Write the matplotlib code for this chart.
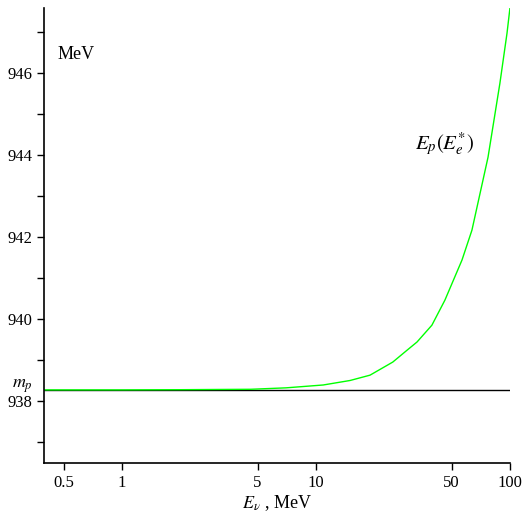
import matplotlib
matplotlib.use("Agg")
import matplotlib.pyplot as plt
import matplotlib.ticker as mtick
import numpy as np

plt.rcParams['font.family'] = ['Liberation Serif', 'DejaVu Serif']
plt.rcParams['mathtext.fontset'] = 'stix'

# proton mass line
m_p = 938.27

# E_p(E_e^*) curve
e_nu = [0.4, 1.0, 2.0, 3.0, 4.6, 7.0, 10.9, 15.0, 19.0, 24.9, 29.5, 33.2,
        39.6, 46.2, 56.6, 63.7, 77.1, 88.8, 96.6, 100.0]
e_p = [938.27, 938.27, 938.275, 938.28, 938.285, 938.32, 938.39, 938.5,
       938.63, 938.95, 939.24, 939.44, 939.85, 940.46, 941.44, 942.17,
       943.95, 945.76, 946.98, 947.59]

x_ticks = [0.5, 1, 5, 10, 50, 100]
x_ticklabels = ['0.5', '1', '5', '10', '50', '100']
y_major = [938, 940, 942, 944, 946]
y_minor = [937, 939, 941, 943, 945, 947]

fig = plt.figure(figsize=(5.23, 5.2), dpi=100)
ax = fig.add_axes([0.084, 0.11, 0.891, 0.875])

ax.axhline(m_p, color='black', linewidth=1.0)
ax.plot(e_nu, e_p, color='#00ff00', linewidth=1.0)

ax.set_xscale('log')
ax.set_xlim(0.396, 100)
ax.set_ylim(936.49, 947.6)

ax.xaxis.set_major_locator(mtick.FixedLocator(x_ticks))
ax.xaxis.set_major_formatter(mtick.FixedFormatter(x_ticklabels))
ax.xaxis.set_minor_locator(mtick.NullLocator())
ax.yaxis.set_major_locator(mtick.FixedLocator(y_major))
ax.yaxis.set_minor_locator(mtick.FixedLocator(y_minor))

ax.spines['top'].set_visible(False)
ax.spines['right'].set_visible(False)
ax.spines['left'].set_linewidth(1.2)
ax.spines['bottom'].set_linewidth(1.2)
ax.tick_params(which='both', direction='out', length=5, width=1, labelsize=12)

ax.set_xlabel(r'$E_{\nu}$ , MeV', fontsize=13, labelpad=2)

ax.text(0.03, 0.897, 'MeV', transform=ax.transAxes, fontsize=13,
        va='center', ha='left')
ax.text(0.796, 0.70, r'$E_p(E_e^{*})$', transform=ax.transAxes,
        fontsize=15, va='center', ha='left')
ax.annotate(r'$m_p$', xy=(-0.045, m_p), xycoords=('axes fraction', 'data'),
            xytext=(0, -4), textcoords='offset points',
            fontsize=13, ha='center', va='bottom')

fig.savefig('out.png', dpi=100)
